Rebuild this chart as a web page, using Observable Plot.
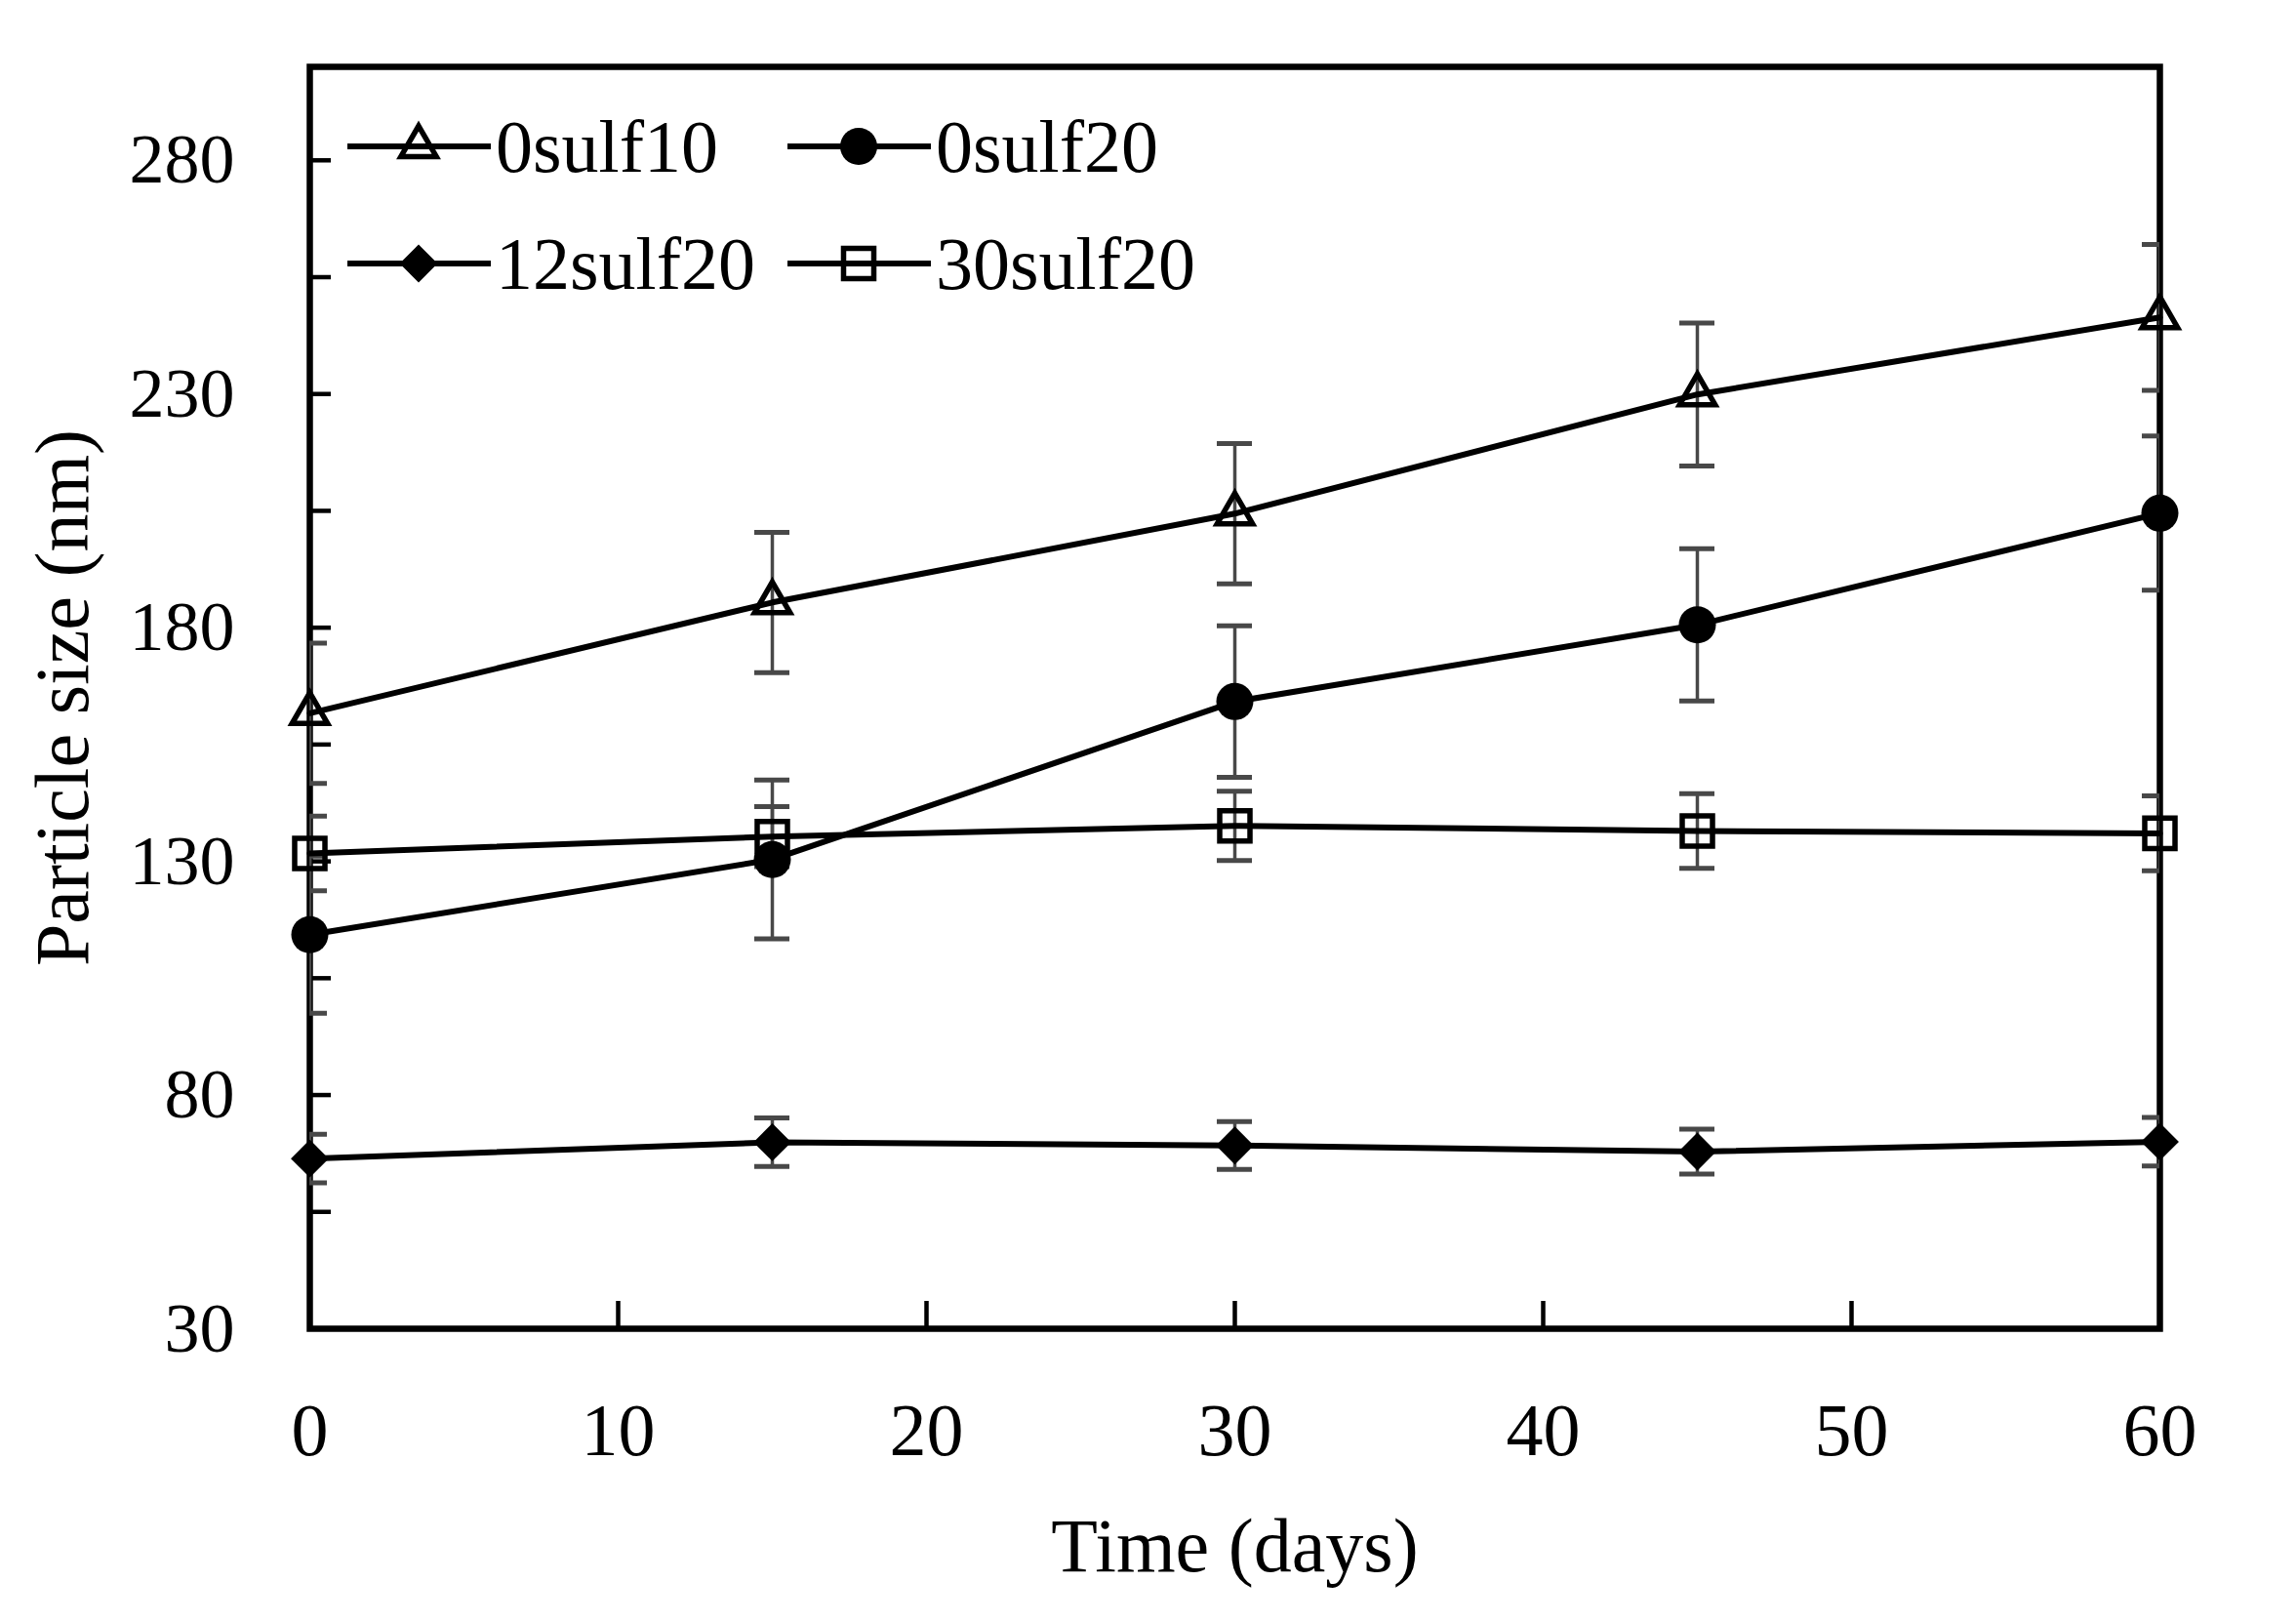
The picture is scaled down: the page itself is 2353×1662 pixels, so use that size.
<!DOCTYPE html>
<html>
<head>
<meta charset="utf-8">
<script src="https://cdn.jsdelivr.net/npm/d3@7"></script>
<script src="https://cdn.jsdelivr.net/npm/@observablehq/plot@0.6"></script>
<style>
  body { margin: 0; background: #fff; }
  #wrap { position: relative; width: 2353px; height: 1662px; font-family: "Liberation Serif", "Times New Roman", serif; background: #fff; }
  .item { position: absolute; display: flex; align-items: center; height: 60px; font-size: 76px; line-height: 60px; color: #000; white-space: nowrap; }
  .item span { margin-left: 5px; }
</style>
</head>
<body>
<div id="wrap"></div>
<script>
// ---- data ----
const days = [0, 15, 30, 45, 60];
const seriesNames = ["0sulf10", "0sulf20", "12sulf20", "30sulf20"];
const sulf0_10    = [161.7, 185.4, 204.4, 229.9, 246.4];
const sulf0_10Err = [15.0, 15.0, 15.0, 15.3, 15.6];
const sulf0_20    = [114.3, 130.4, 164.2, 180.6, 204.5];
const sulf0_20Err = [16.8, 17.0, 16.2, 16.3, 16.5];
const sulf12_20    = [66.4, 69.9, 69.2, 67.9, 70.0];
const sulf12_20Err = [5.2, 5.2, 5.1, 4.8, 5.2];
const sulf30_20    = [131.7, 135.3, 137.6, 136.5, 136.0];
const sulf30_20Err = [8.0, 6.4, 7.4, 8.0, 8.0];
const xTickLabels = [0, 10, 20, 30, 40, 50, 60];
const xTickMarks = [10, 20, 30, 40, 50];
const yTickLabels = [30, 80, 130, 180, 230, 280];
const yTickMarks = [55, 80, 105, 130, 155, 180, 205, 230, 255, 280];
const xTitle = "Time (days)";
const yTitle = "Particle size (nm)";

const values = [sulf0_10, sulf0_20, sulf12_20, sulf30_20];
const errors = [sulf0_10Err, sulf0_20Err, sulf12_20Err, sulf30_20Err];
const rows = seriesNames.flatMap((s, k) => days.map((d, i) => ({series: s, day: d, value: values[k][i], err: errors[k][i]})));

// ---- styles ----
const symbolStyle = {
  "0sulf10":  {symbol: "triangle", r: 13.5, fill: "none",  stroke: "black", strokeWidth: 5.5, d3: d3.symbolTriangle},
  "0sulf20":  {symbol: "circle",   r: 19,   fill: "black", stroke: "none",  strokeWidth: 0,   d3: d3.symbolCircle},
  "12sulf20": {symbol: "diamond2", r: 17.5, fill: "black", stroke: "none",  strokeWidth: 0,   d3: d3.symbolDiamond2},
  "30sulf20": {symbol: "square",   r: 17.5, fill: "none",  stroke: "black", strokeWidth: 5.5, d3: d3.symbolSquare}
};

const W = 2353, H = 1662, mL = 317, mR = 140, mT = 68, mB = 301;
const pw = W - mL - mR, ph = H - mT - mB;
const font = '"Liberation Serif", "Times New Roman", serif';
const errColor = "#484848";

const chart = Plot.plot({
  width: W, height: H,
  marginLeft: mL, marginRight: mR, marginTop: mT, marginBottom: mB,
  style: {fontFamily: font, background: "white", color: "black", overflow: "visible"},
  x: {domain: [0, 60]},
  y: {domain: [30, 300]},
  marks: [
    Plot.frame({stroke: "black", strokeWidth: 6.5}),
    Plot.tickY(yTickMarks, {y: d => d, insetRight: pw - 22, stroke: "black", strokeWidth: 4.5}),
    Plot.tickX(xTickMarks, {x: d => d, insetTop: ph - 28, stroke: "black", strokeWidth: 4.5}),
    Plot.ruleX(rows, {x: "day", y1: d => d.value - d.err, y2: d => d.value + d.err, stroke: errColor, strokeWidth: 3.5, clip: true}),
    Plot.ruleY(rows, {y: d => d.value + d.err, x1: "day", x2: "day", insetLeft: -18, insetRight: -18, stroke: errColor, strokeWidth: 5, clip: true}),
    Plot.ruleY(rows, {y: d => d.value - d.err, x1: "day", x2: "day", insetLeft: -18, insetRight: -18, stroke: errColor, strokeWidth: 5, clip: true}),
    Plot.line(rows, {x: "day", y: "value", z: "series", stroke: "black", strokeWidth: 6}),
    ...seriesNames.map(s => {
      const st = symbolStyle[s];
      return Plot.dot(rows.filter(d => d.series === s), {x: "day", y: "value", symbol: st.symbol, r: st.r, fill: st.fill, stroke: st.stroke, strokeWidth: st.strokeWidth});
    }),
    Plot.axisY({ticks: yTickLabels, tickSize: 0, tickPadding: 77, fontSize: 72, label: null, tickFormat: d => String(d)}),
    Plot.axisY({ticks: [], tickSize: 0, fontSize: 78, label: yTitle, labelAnchor: "center", labelOffset: 283, labelArrow: "none"}),
    Plot.axisX({ticks: xTickLabels, tickSize: 0, tickPadding: 76, fontSize: 76, label: null, tickFormat: d => String(d)}),
    Plot.axisX({ticks: [], tickSize: 0, fontSize: 78, label: xTitle, labelAnchor: "center", labelOffset: 248, labelArrow: "none"})
  ]
});

const wrap = document.getElementById("wrap");
wrap.appendChild(chart);

// ---- legend (inside the plot frame, top-left) ----
const legendLefts = [356, 807];
const legendRows = [150, 270];
seriesNames.forEach((s, i) => {
  const st = symbolStyle[s];
  const item = document.createElement("div");
  item.className = "item";
  item.style.left = legendLefts[i % 2] + "px";
  item.style.top = (legendRows[Math.floor(i / 2)] - 30) + "px";
  const svg = d3.create("svg").attr("width", 147).attr("height", 60).style("overflow", "visible");
  svg.append("line").attr("x1", 0).attr("x2", 147).attr("y1", 30).attr("y2", 30).attr("stroke", "black").attr("stroke-width", 6);
  svg.append("path")
    .attr("d", d3.symbol(st.d3, Math.PI * st.r * st.r)())
    .attr("transform", "translate(73,30)")
    .attr("fill", st.fill)
    .attr("stroke", st.stroke)
    .attr("stroke-width", st.strokeWidth);
  item.appendChild(svg.node());
  const span = document.createElement("span");
  span.textContent = s;
  item.appendChild(span);
  wrap.appendChild(item);
});
</script>
</body>
</html>
